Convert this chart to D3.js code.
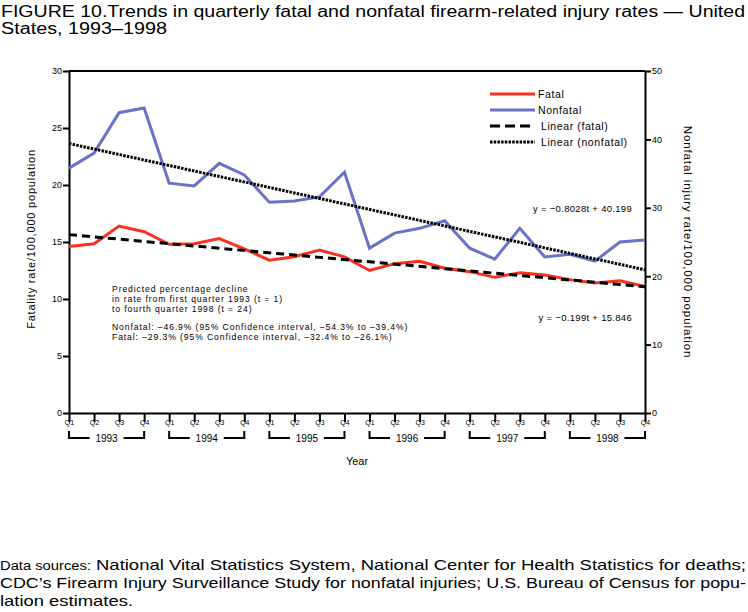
<!DOCTYPE html>
<html>
<head>
<meta charset="utf-8">
<script src="https://cdn.jsdelivr.net/npm/d3@7"></script>
<style>
  body { margin: 0; background: #fff; }
  svg text { font-family: "Liberation Sans", Arial, sans-serif; fill: #000; }
</style>
</head>
<body>
<div id="chart"></div>
<script>
// quarterly rates, t = 1 (Q1 1993) .. t = 24 (Q4 1998)
const quarters = ["Q1", "Q2", "Q3", "Q4"];
const years = ["1993", "1994", "1995", "1996", "1997", "1998"];
const fatal = [14.6, 14.85, 16.4, 15.9, 14.8, 14.85, 15.3, 14.4, 13.4, 13.7, 14.3, 13.7,
               12.5, 13.1, 13.3, 12.7, 12.4, 11.9, 12.3, 12.1, 11.7, 11.4, 11.6, 11.1];
const nonfatal = [35.8, 38.0, 43.9, 44.6, 33.6, 33.2, 36.5, 34.8, 30.8, 31.0, 31.6, 35.2,
                  24.1, 26.3, 27.0, 28.1, 24.1, 22.5, 27.0, 22.8, 23.2, 22.2, 25.0, 25.3];
const fatalFit = [-0.199, 15.846];      // slope, intercept
const nonfatalFit = [-0.8028, 40.199];
const leftTicks = [0, 5, 10, 15, 20, 25, 30];
const rightTicks = [0, 10, 20, 30, 40, 50];
const notes = [
    "Predicted percentage decline",
    "in rate from first quarter 1993 (t = 1)",
    "to fourth quarter 1998 (t = 24)",
    "Nonfatal: \u201346.9% (95% Confidence interval, \u201354.3% to \u201339.4%)",
    "Fatal: \u201329.3% (95% Confidence interval, \u201332.4% to \u201326.1%)"
];
const noteY = [289, 299, 309, 327, 337];

const w = 748, h = 612;
const pLeft = 69, pRight = 645, pTop = 71, pBottom = 413;
const red = "#f8321e", blue = "#6673c6";

const svg = d3.select("#chart").append("svg").attr("width", w).attr("height", h);

// title
svg.append("text").attr("x", 1).attr("y", 17)
    .style("font-family", "'Liberation Sans Narrow', sans-serif").style("font-size", "16px")
    .attr("textLength", 744).attr("lengthAdjust", "spacingAndGlyphs")
    .text("FIGURE 10.Trends in quarterly fatal and nonfatal firearm-related  injury rates \u2014 United");
svg.append("text").attr("x", 1).attr("y", 34)
    .style("font-family", "'Liberation Sans Narrow', sans-serif").style("font-size", "16px")
    .attr("textLength", 166).attr("lengthAdjust", "spacingAndGlyphs")
    .text("States,  1993\u20131998");

// scales
const x = d3.scaleLinear().domain([1, 24]).range([pLeft, pRight]);
const yL = d3.scaleLinear().domain([0, 30]).range([pBottom, pTop]);
const yR = d3.scaleLinear().domain([0, 50]).range([pBottom, pTop]);

// axes
const gl = svg.append("g").attr("transform", "translate(" + pLeft + ",0)")
    .call(d3.axisLeft(yL).tickValues(leftTicks).tickSize(6).tickSizeOuter(0).tickPadding(1));
const gr = svg.append("g").attr("transform", "translate(" + pRight + ",0)")
    .call(d3.axisRight(yR).tickValues(rightTicks).tickSize(6).tickSizeOuter(0).tickPadding(1));
const gx = svg.append("g").attr("transform", "translate(0," + pBottom + ")")
    .call(d3.axisBottom(x).tickValues(d3.range(1, 25)).tickSize(9).tickSizeOuter(0).tickPadding(-2)
        .tickFormat(t => quarters[(t - 1) % 4]));
[gl, gr, gx].forEach(g => {
    g.select(".domain").attr("stroke-width", 2);
    g.selectAll(".tick line").attr("stroke-width", 2);
    g.selectAll(".tick text").style("font-size", "9px");
});
gx.selectAll(".tick text").style("font-size", "7px");

// top frame line
svg.append("line").attr("x1", pLeft).attr("x2", pRight).attr("y1", pTop).attr("y2", pTop)
    .attr("stroke", "#000").attr("stroke-width", 2);

// year brackets
years.forEach((yr, i) => {
    const x0 = x(i * 4 + 1), x1 = x(i * 4 + 4), xm = (x0 + x1) / 2;
    const yb = 438, gap = 17;
    svg.append("path")
        .attr("d", "M" + x0 + "," + (yb - 7) + "V" + yb + "H" + (xm - gap))
        .attr("fill", "none").attr("stroke", "#000").attr("stroke-width", 2);
    svg.append("path")
        .attr("d", "M" + (xm + gap) + "," + yb + "H" + x1 + "V" + (yb - 7))
        .attr("fill", "none").attr("stroke", "#000").attr("stroke-width", 2);
    svg.append("text").attr("x", xm).attr("y", yb + 3.5).attr("text-anchor", "middle")
        .style("font-size", "10px").text(yr);
});

svg.append("text").attr("x", 357).attr("y", 465).attr("text-anchor", "middle")
    .style("font-size", "11px").text("Year");

// axis titles
svg.append("text").attr("transform", "translate(35,239) rotate(-90)").attr("text-anchor", "middle")
    .style("font-size", "11px").style("letter-spacing", "0.8px")
    .text("Fatality rate/100,000 population");
svg.append("text").attr("transform", "translate(684,242) rotate(90)").attr("text-anchor", "middle")
    .style("font-size", "11.5px").style("letter-spacing", "0.9px")
    .text("Nonfatal injury rate/100,000 population");

// lines
const line = (ys) => d3.line().x((d, i) => x(i + 1)).y(d => ys(d));
svg.append("path").datum(fatal).attr("d", line(yL))
    .attr("fill", "none").attr("stroke", red).attr("stroke-width", 3);
svg.append("path").datum(nonfatal).attr("d", line(yR))
    .attr("fill", "none").attr("stroke", blue).attr("stroke-width", 3);

const fit = (c, t) => c[0] * t + c[1];
svg.append("line")
    .attr("x1", x(1)).attr("y1", yL(fit(fatalFit, 1)))
    .attr("x2", x(24)).attr("y2", yL(fit(fatalFit, 24)))
    .attr("stroke", "#000").attr("stroke-width", 3).attr("stroke-dasharray", "8,5");
svg.append("line")
    .attr("x1", x(1)).attr("y1", yR(fit(nonfatalFit, 1)))
    .attr("x2", x(24)).attr("y2", yR(fit(nonfatalFit, 24)))
    .attr("stroke", "#000").attr("stroke-width", 3).attr("stroke-dasharray", "2.5,1.2");

// equations
svg.append("text").attr("x", 632).attr("y", 212).attr("text-anchor", "end")
    .style("font-size", "9.5px").style("letter-spacing", "0.3px").text("y = \u22120.8028t + 40.199");
svg.append("text").attr("x", 632).attr("y", 321).attr("text-anchor", "end")
    .style("font-size", "9.5px").style("letter-spacing", "0.3px").text("y = \u22120.199t + 15.846");

// legend
const legend = [
    { label: "Fatal", color: red, dash: null },
    { label: "Nonfatal", color: blue, dash: null },
    { label: "Linear (fatal)", color: "#000", dash: "10,5" },
    { label: "Linear (nonfatal)", color: "#000", dash: "2.5,1.2" }
];
legend.forEach((d, i) => {
    const ly = 94 + i * 16;
    svg.append("line").attr("x1", 490).attr("x2", 535).attr("y1", ly).attr("y2", ly)
        .attr("stroke", d.color).attr("stroke-width", 3).attr("stroke-dasharray", d.dash);
    svg.append("text").attr("x", i < 2 ? 538 : 541).attr("y", ly + 3.5)
        .style("font-size", "10.5px").style("letter-spacing", "0.6px").text(d.label);
});

// note block
notes.forEach((t, i) => {
    svg.append("text").attr("x", 112).attr("y", noteY[i] + 3)
        .style("font-size", "8.6px").style("letter-spacing", "0.9px").text(t);
});

// footer
svg.append("text").attr("x", 0).attr("y", 570)
    .style("font-size", "12px").style("font-weight", "300").attr("textLength", 91).attr("lengthAdjust", "spacingAndGlyphs")
    .text("Data sources:");
const foot = [
    ["National Vital Statistics System, National Center for Health Statistics for deaths;", 96, 650, 570],
    ["CDC\u2019s Firearm Injury Surveillance Study for nonfatal injuries; U.S. Bureau of Census for popu-", 0, 746, 588],
    ["lation estimates.", 0, 133, 606]
];
foot.forEach(f => {
    svg.append("text").attr("x", f[1]).attr("y", f[3])
        .style("font-family", "'Liberation Sans Narrow', sans-serif").style("font-size", "15px")
        .attr("textLength", f[2]).attr("lengthAdjust", "spacingAndGlyphs").text(f[0]);
});
</script>
</body>
</html>
